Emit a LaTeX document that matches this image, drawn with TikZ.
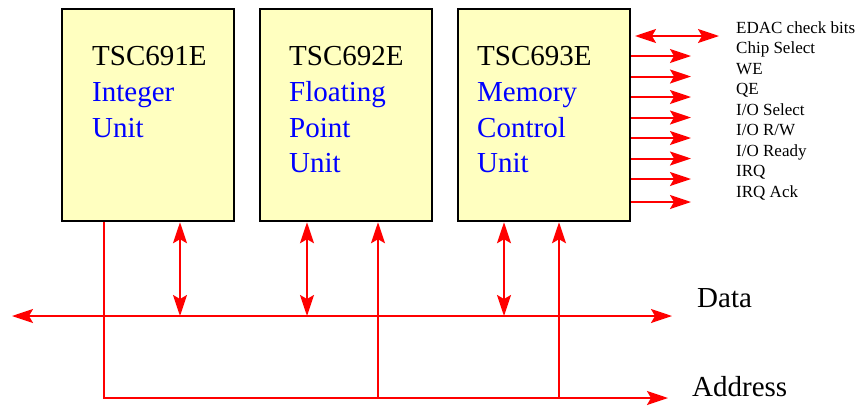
\documentclass[tikz,border=0pt]{standalone}
\usepackage{fontspec}
\setmainfont{Liberation Serif}
\usetikzlibrary{arrows.meta}
\definecolor{boxfill}{RGB}{255,255,192}
\definecolor{busred}{RGB}{255,0,0}
\definecolor{txtblue}{RGB}{0,0,255}
\begin{document}
\begin{tikzpicture}[x=1pt,y=-1pt,
  unitbox/.style={draw=black,line width=2.5pt,fill=boxfill,rectangle,minimum width=172pt,minimum height=212pt,inner sep=0pt},
  bigtxt/.style={anchor=base west,inner sep=0pt,font=\fontsize{29}{35}\selectfont},
  bluetxt/.style={bigtxt,text=txtblue},
  sigtxt/.style={anchor=base west,inner sep=0pt,font=\fontsize{17}{20}\selectfont},
  bus/.style={draw=busred,line width=2pt},
  tip/.tip={Stealth[length=21pt,width=14pt,inset=4pt]},
  uni/.style={bus,-tip},
  bi/.style={bus,tip-tip}
]
\useasboundingbox (0,0) rectangle (862,405);
% boxes
\node[unitbox] (b1) at (148,115) {};
\node[unitbox] (b2) at (346,115) {};
\node[unitbox] (b3) at (544,115) {};
% box texts
\node[bigtxt]  (t1a) at (92,65)  {TSC691E};
\node[bluetxt] (t1b) at (92,101) {Integer};
\node[bluetxt] (t1c) at (92,137) {Unit};
\node[bigtxt]  (t2a) at (289,65)  {TSC692E};
\node[bluetxt] (t2b) at (289,101) {Floating};
\node[bluetxt] (t2c) at (289,137) {Point};
\node[bluetxt] (t2d) at (289,172) {Unit};
\node[bigtxt]  (t3a) at (477,65)  {TSC693E};
\node[bluetxt] (t3b) at (477,101) {Memory};
\node[bluetxt] (t3c) at (477,137) {Control};
\node[bluetxt] (t3d) at (477,172) {Unit};
% bus coordinates
\coordinate (dL) at (12,316);
\coordinate (dR) at (672,316);
\coordinate (aC) at (104,398);
\coordinate (aR) at (668,398);
\coordinate (j1) at (180,316);
\coordinate (j2) at (307,316);
\coordinate (j3) at (504,316);
\coordinate (k2) at (378,398);
\coordinate (k3) at (559,398);
% buses
\draw[bi] (dL) -- (dR);
\draw[uni] (b1.south -| aC) -- (aC) -- (aR);
\draw[bi] (j1 |- b1.south) -- (j1);
\draw[bi] (j2 |- b2.south) -- (j2);
\draw[bi] (j3 |- b3.south) -- (j3);
\draw[uni] (k2) -- (k2 |- b2.south);
\draw[uni] (k3) -- (k3 |- b3.south);
% bus labels
\node[bigtxt] (data) at (697,307) {Data};
\node[bigtxt] (addr) at (692,396) {Address};
% signals
\coordinate (eL) at (635,36);
\coordinate (eR) at (719,36);
\draw[bi] (eL) -- (eR);
\foreach \yy [count=\i] in {56,76.5,97,117.5,138,158.5,179,202}{
  \coordinate (s\i) at (691,\yy);
  \draw[uni] (b3.east |- s\i) -- (s\i);
}
\node[sigtxt] (l1) at (736,33) {EDAC check bits};
\node[sigtxt] (l2) at (736,53) {Chip Select};
\node[sigtxt] (l3) at (736,74) {WE};
\node[sigtxt] (l4) at (736,94.5) {QE};
\node[sigtxt] (l5) at (736,115) {I/O Select};
\node[sigtxt] (l6) at (736,135.5) {I/O R/W};
\node[sigtxt] (l7) at (736,156) {I/O Ready};
\node[sigtxt] (l8) at (736,176.5) {IRQ};
\node[sigtxt] (l9) at (736,197) {IRQ Ack};
\end{tikzpicture}
\end{document}
